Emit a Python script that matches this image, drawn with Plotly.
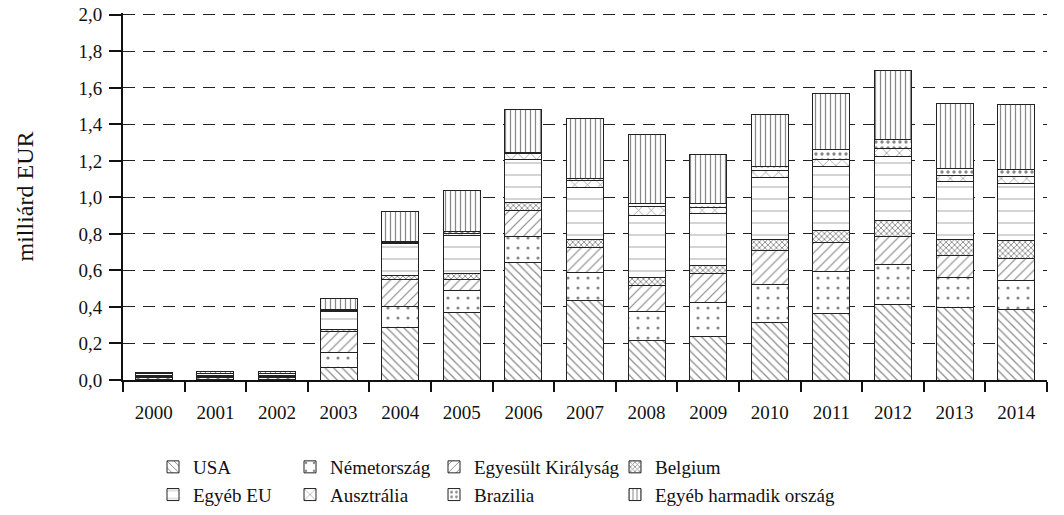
import plotly.graph_objects as go

years = [str(y) for y in range(2000, 2015)]

usa       = [0.004, 0.004, 0.004, 0.070, 0.289, 0.371, 0.645, 0.433, 0.214, 0.237, 0.316, 0.365, 0.416, 0.396, 0.387]
nemet     = [0.012, 0.012, 0.012, 0.080, 0.116, 0.119, 0.140, 0.155, 0.160, 0.189, 0.205, 0.232, 0.218, 0.165, 0.157]
uk        = [0.004, 0.004, 0.004, 0.115, 0.143, 0.060, 0.143, 0.137, 0.141, 0.155, 0.191, 0.157, 0.151, 0.120, 0.123]
belgium   = [0.002, 0.002, 0.002, 0.010, 0.022, 0.035, 0.046, 0.046, 0.046, 0.047, 0.059, 0.064, 0.086, 0.090, 0.096]
egyeb_eu  = [0.012, 0.014, 0.014, 0.100, 0.180, 0.205, 0.235, 0.283, 0.339, 0.285, 0.340, 0.351, 0.353, 0.316, 0.315]
ausztr    = [0.001, 0.001, 0.001, 0.005, 0.005, 0.015, 0.030, 0.040, 0.050, 0.031, 0.036, 0.036, 0.042, 0.034, 0.036]
brazil    = [0.001, 0.001, 0.001, 0.005, 0.005, 0.010, 0.007, 0.010, 0.018, 0.024, 0.022, 0.055, 0.049, 0.039, 0.040]
egyeb_h   = [0.006, 0.008, 0.008, 0.060, 0.165, 0.225, 0.237, 0.330, 0.378, 0.269, 0.287, 0.309, 0.378, 0.352, 0.356]

y_ticks = [0.0, 0.2, 0.4, 0.6, 0.8, 1.0, 1.2, 1.4, 1.6, 1.8, 2.0]

series = [
    ("USA", usa, "\\", 6, 0.2, "legend"),
    ("Németország", nemet, ".", 10, 0.08, "legend2"),
    ("Egyesült Királyság", uk, "/", 7, 0.17, "legend3"),
    ("Belgium", belgium, "x", 4, 0.4, "legend4"),
    ("Egyéb EU", egyeb_eu, "-", 12, 0.06, "legend"),
    ("Ausztrália", ausztr, "x", 9, 0.14, "legend2"),
    ("Brazilia", brazil, ".", 6, 0.25, "legend3"),
    ("Egyéb harmadik ország", egyeb_h, "|", 5, 0.25, "legend4"),
]

fig = go.Figure()
for name, vals, shape, size, sol, lg in series:
    fig.add_trace(go.Bar(
        x=years, y=vals, name=name, legend=lg,
        marker=dict(color="white",
                    line=dict(color="#222", width=1),
                    pattern=dict(shape=shape, size=size, solidity=sol,
                                 fgcolor="#111", bgcolor="white", fillmode="overlay")),
    ))

W, H = 1064, 515
font = dict(family="Liberation Serif, Times New Roman, serif", size=19, color="#111")
title_font = dict(family="Liberation Serif, Times New Roman, serif", size=24, color="#111")
leg_common = dict(orientation="v", xref="container", yref="container",
                  yanchor="top", xanchor="left", y=1 - 448 / H,
                  font=font, tracegroupgap=0, itemwidth=30, traceorder="normal",
                  bgcolor="rgba(0,0,0,0)")

fig.update_layout(
    width=W, height=H,
    barmode="stack", bargap=0.4,
    separators=",.",
    plot_bgcolor="white", paper_bgcolor="white",
    font=font,
    margin=dict(l=123, r=17, t=13, b=135, autoexpand=False),
    showlegend=True,
    legend=dict(x=153 / W, **leg_common),
    legend2=dict(x=290 / W, **leg_common),
    legend3=dict(x=434 / W, **leg_common),
    legend4=dict(x=615 / W, **leg_common),
    annotations=[dict(text="milliárd EUR", xref="paper", yref="paper",
                      x=-(123 - 24) / (W - 123 - 17), y=0.5, xanchor="center", yanchor="middle",
                      textangle=-90, showarrow=False, font=title_font)],
)
fig.update_yaxes(
    range=[0, 2.01], tickmode="array", tickvals=y_ticks,
    ticktext=[f"{v:.1f}".replace(".", ",") for v in y_ticks],
    automargin=False,
    showgrid=True, gridcolor="#222", griddash="12px,8px", gridwidth=1,
    showline=True, linecolor="#111", linewidth=2,
    ticks="outside", ticklen=12, tickwidth=2, tickcolor="#111",
    ticklabelstandoff=3,
    zeroline=False,
)
fig.update_xaxes(
    type="category", tickson="boundaries", automargin=False,
    showline=True, linecolor="#111", linewidth=2,
    ticks="outside", ticklen=10, tickwidth=2, tickcolor="#111",
    ticklabelstandoff=14,
    showgrid=False,
)

fig.write_html("out.html", config={"displayModeBar": False},
               post_script="document.body.style.margin='0';")
